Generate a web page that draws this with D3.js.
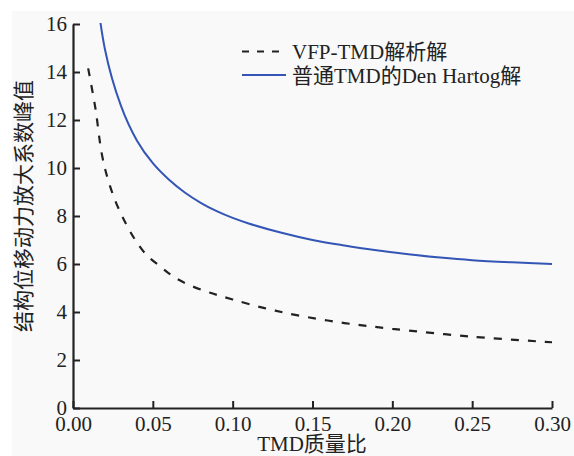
<!DOCTYPE html>
<html>
<head>
<meta charset="utf-8">
<script src="https://cdn.jsdelivr.net/npm/d3@7"></script>
<style>
  body { margin: 0; background: #fff; }
  text { font-family: "Liberation Serif", "Noto Sans CJK SC", serif; fill: #222; }
</style>
</head>
<body>
<svg width="574" height="456"></svg>
<script>
// mass ratio / peak values
var vfpMu  = [0.0095, 0.014, 0.018, 0.022, 0.027, 0.033, 0.039, 0.046, 0.055, 0.063, 0.073, 0.086, 0.10, 0.12, 0.14, 0.17, 0.20, 0.25, 0.30];
var vfpVal = [14.15, 12.5, 10.6, 9.5, 8.55, 7.7, 7.0, 6.38, 5.88, 5.47, 5.12, 4.8, 4.52, 4.16, 3.87, 3.54, 3.3, 2.97, 2.74];

// Den Hartog curve, first point runs off the top and is clipped
var dhMu  = [0.01, 0.02, 0.03, 0.04, 0.05, 0.06, 0.07, 0.08, 0.09, 0.10, 0.11, 0.13, 0.15, 0.17, 0.19, 0.21, 0.23, 0.25, 0.275, 0.30];
var dhVal = [20.2, 14.95, 12.6, 11.15, 10.2, 9.52, 8.98, 8.55, 8.2, 7.92, 7.69, 7.31, 7.0, 6.77, 6.57, 6.41, 6.27, 6.16, 6.07, 6.0];

var xTicks = [0, 0.05, 0.10, 0.15, 0.20, 0.25, 0.30];
var yTicks = [0, 2, 4, 6, 8, 10, 12, 14, 16];

var names = ["VFP-TMD解析解", "普通TMD的Den Hartog解"];

var font = "'Liberation Serif', 'Noto Sans CJK SC', serif";

var svg = d3.select("svg");

// light grey panel (white strip top/left like the scan)
svg.append("rect")
   .attr("x", 12).attr("y", 11)
   .attr("width", 562).attr("height", 445)
   .attr("fill", "#f9f9f9");

var x = d3.scaleLinear().domain([0, 0.30]).range([73, 552]);
var y = d3.scaleLinear().domain([0, 16]).range([408, 24]);

svg.append("clipPath").attr("id", "plot")
   .append("rect")
   .attr("x", 73).attr("y", 23)
   .attr("width", 480).attr("height", 386);

var xAxis = svg.append("g")
   .attr("transform", "translate(0,408)")
   .call(d3.axisBottom(x).tickValues(xTicks).tickSizeInner(-7).tickSizeOuter(0)
        .tickFormat(d3.format(".2f")))
   .attr("font-family", font)
   .attr("font-size", 21);
xAxis.select(".domain").attr("stroke", "#222").attr("stroke-width", 2.2);
xAxis.selectAll(".tick line").attr("stroke", "#222").attr("stroke-width", 2);
xAxis.selectAll(".tick text").attr("y", 8).attr("dy", "0.71em").attr("fill", "#222");

var yAxis = svg.append("g")
   .attr("transform", "translate(73,0)")
   .call(d3.axisLeft(y).tickValues(yTicks).tickSizeInner(-7).tickSizeOuter(0))
   .attr("font-family", font)
   .attr("font-size", 21);
yAxis.select(".domain").attr("stroke", "#222").attr("stroke-width", 2.2);
yAxis.selectAll(".tick line").attr("stroke", "#222").attr("stroke-width", 2);
yAxis.selectAll(".tick text").attr("x", -6).attr("fill", "#222");

var smooth = d3.line()
   .x(function (d) { return x(d[0]); })
   .y(function (d) { return y(d[1]); })
   .curve(d3.curveCatmullRom.alpha(0.5));

svg.append("path")
   .datum(d3.zip(vfpMu, vfpVal))
   .attr("d", smooth)
   .attr("fill", "none")
   .attr("stroke", "#222")
   .attr("stroke-width", 2.2)
   .attr("stroke-dasharray", "8,9");

svg.append("path")
   .datum(d3.zip(dhMu, dhVal))
   .attr("d", smooth)
   .attr("clip-path", "url(#plot)")
   .attr("fill", "none")
   .attr("stroke", "#3355b5")
   .attr("stroke-width", 2);

// legend
var leg = svg.append("g");
leg.append("line")
   .attr("x1", 242).attr("x2", 286).attr("y1", 51.5).attr("y2", 51.5)
   .attr("stroke", "#222").attr("stroke-width", 2.2).attr("stroke-dasharray", "7,8");
leg.append("line")
   .attr("x1", 242).attr("x2", 286).attr("y1", 75).attr("y2", 75)
   .attr("stroke", "#3355b5").attr("stroke-width", 2);
leg.selectAll("text.lab")
   .data(names)
   .enter().append("text")
   .attr("class", "lab")
   .attr("x", 292)
   .attr("y", function (d, i) { return 58.5 + i * 24; })
   .style("font-size", "21px")
   .text(function (d) { return d; });

// axis titles
svg.append("text")
   .attr("x", 312).attr("y", 451)
   .attr("text-anchor", "middle")
   .style("font-size", "21px")
   .text("TMD质量比");

svg.append("text")
   .attr("transform", "translate(31,206) rotate(-90)")
   .attr("text-anchor", "middle")
   .style("font-size", "21px")
   .text("结构位移动力放大系数峰值");
</script>
</body>
</html>
